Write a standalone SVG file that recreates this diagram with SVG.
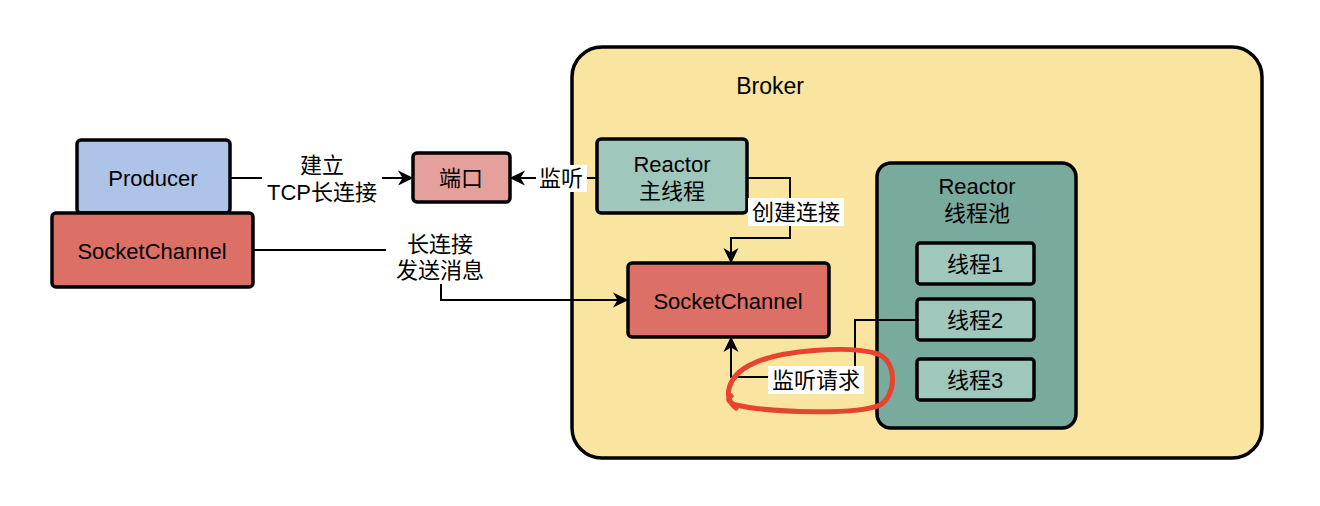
<svg xmlns="http://www.w3.org/2000/svg" width="1320" height="506" viewBox="0 0 1320 506">
<defs>
<style>
text{font-family:"Liberation Sans","Noto Sans CJK SC",sans-serif;font-size:22px;fill:#000;text-anchor:middle;dominant-baseline:central}
.node{stroke:#000;stroke-width:3.5}
.conn{fill:none;stroke:#000;stroke-width:2}
.lbl{fill:#fff}
</style>
<marker id="arr" viewBox="0 0 16 16" refX="15" refY="8" markerWidth="16" markerHeight="16" markerUnits="userSpaceOnUse" orient="auto">
<path d="M0,0.5 L15.5,8 L0,15.5 L4.5,8 z" fill="#000"/>
</marker>
</defs>
<rect width="1320" height="506" fill="#fff"/>
<g id="broker">
<rect class="node" x="572" y="47" width="690" height="411" rx="30" fill="#F9E4A0"/>
<text x="770" y="86" style="font-size:23px">Broker</text>
</g>
<g id="producer">
<rect class="node" x="77" y="140" width="153" height="73" rx="4" fill="#AEC3E8"/>
<text x="153" y="178">Producer</text>
</g>
<g id="socketchannel-client">
<rect class="node" x="52" y="213" width="201" height="74" rx="4" fill="#DC7066"/>
<text x="152" y="251">SocketChannel</text>
</g>
<g id="port">
<rect class="node" x="413" y="153" width="97" height="49" rx="4" fill="#E6A09C"/>
<text x="461" y="178">端口</text>
</g>
<g id="reactor-main">
<rect class="node" x="597" y="139" width="150" height="74" rx="4" fill="#A0C7BC"/>
<text x="672" y="164">Reactor</text>
<text x="672" y="191">主线程</text>
</g>
<g id="socketchannel-broker">
<rect class="node" x="628" y="263" width="201" height="74" rx="4" fill="#DC7066"/>
<text x="728" y="301">SocketChannel</text>
</g>
<g id="reactor-pool">
<rect class="node" x="877" y="163" width="199" height="265" rx="14" fill="#78AA9E"/>
<text x="977" y="186">Reactor</text>
<text x="977" y="213">线程池</text>
</g>
<g id="thread1">
<rect class="node" x="917" y="243" width="117" height="41" rx="3" fill="#A0C7BC"/>
<text x="975" y="264">线程1</text>
</g>
<g id="thread2">
<rect class="node" x="917" y="299" width="117" height="41" rx="3" fill="#A0C7BC"/>
<text x="975" y="320">线程2</text>
</g>
<g id="thread3">
<rect class="node" x="917" y="359" width="117" height="41" rx="3" fill="#A0C7BC"/>
<text x="975" y="380">线程3</text>
</g>
<g id="connectors">
<path class="conn" d="M230,178 L413,178" marker-end="url(#arr)"/>
<rect class="lbl" x="262" y="152" width="120" height="52"/>
<text x="322" y="165">建立</text>
<text x="322" y="192">TCP长连接</text>
<path class="conn" d="M597,178 L510,178" marker-end="url(#arr)"/>
<rect class="lbl" x="536" y="165" width="51" height="27"/>
<text x="561" y="178">监听</text>
<path class="conn" d="M747,178 L790,178 L790,238 L731,238 L731,263" marker-end="url(#arr)"/>
<rect class="lbl" x="748" y="198" width="96" height="28"/>
<text x="796" y="212">创建连接</text>
<path class="conn" d="M253,250 L441,250 L441,300 L628,300" marker-end="url(#arr)"/>
<rect class="lbl" x="386" y="231" width="110" height="53"/>
<text x="440" y="244">长连接</text>
<text x="440" y="270">发送消息</text>
<path class="conn" d="M917,320 L855,320 L855,377 L731,377 L731,337" marker-end="url(#arr)"/>
<rect class="lbl" x="768" y="366" width="96" height="28"/>
<text x="816" y="380">监听请求</text>
</g>
<path d="M736,408 C722,398 728,376 750,365 C778,350 850,345 878,354 C898,362 896,396 880,405 C858,415 772,413 736,405 C728,402 727,399 731,396" fill="none" stroke="#E8432D" stroke-width="5" stroke-linecap="round" stroke-linejoin="round"/>
</svg>
